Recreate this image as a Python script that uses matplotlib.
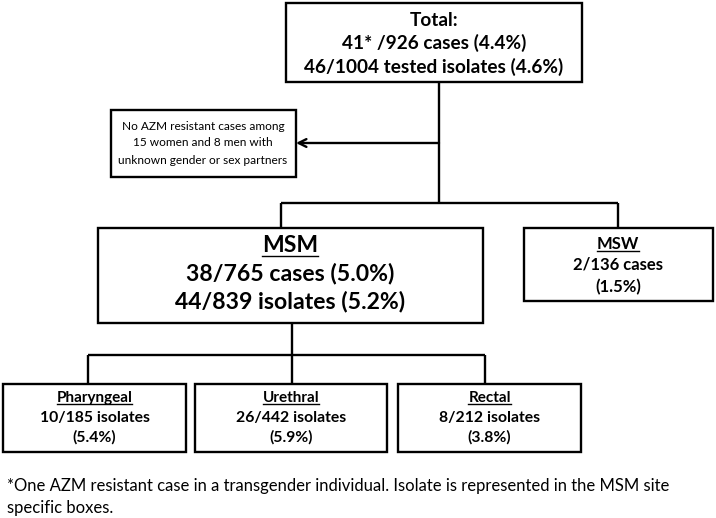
import matplotlib
matplotlib.use("Agg")
import matplotlib.pyplot as plt
from matplotlib.patches import Rectangle

plt.rcParams['font.family'] = ['Lato', 'DejaVu Sans']

# box contents: (title, lines)
total_title = "Total:"
total_lines = ["41* /926 cases (4.4%)", "46/1004 tested isolates (4.6%)"]
note_lines = ["No AZM resistant cases among", "15 women and 8 men with",
              "unknown gender or sex partners"]
msm_title = "MSM"
msm_lines = ["38/765 cases (5.0%)", "44/839 isolates (5.2%)"]
msw_title = "MSW"
msw_lines = ["2/136 cases", "(1.5%)"]
site_titles = ["Pharyngeal", "Urethral", "Rectal"]
site_lines = [["10/185 isolates", "(5.4%)"],
              ["26/442 isolates", "(5.9%)"],
              ["8/212 isolates", "(3.8%)"]]
footnote = ("*One AZM resistant case in a transgender individual. Isolate is represented in the MSM site\n"
            "specific boxes.")

W, H = 716, 518
fig = plt.figure(figsize=(W / 100, H / 100), dpi=100)
ax = fig.add_axes([0, 0, 1, 1])
ax.set_xlim(0, W)
ax.set_ylim(H, 0)
ax.axis('off')

LW = 1.7


def box(x0, y0, x1, y1):
    ax.add_patch(Rectangle((x0, y0), x1 - x0, y1 - y0, fill=False,
                           edgecolor='black', linewidth=LW))


def line(xs, ys):
    ax.plot(xs, ys, color='black', linewidth=LW, solid_capstyle='butt')


underlined = []


def txt(x, y, s, size, bold=True, underline=False):
    t = ax.text(x, y, s, ha='center', va='center', fontsize=size,
                fontweight='bold' if bold else 'normal', color='black')
    if underline:
        underlined.append(t)
    return t


# total box
box(286, 3, 582, 82)
txt(434, 20, total_title, 13.7)
txt(434, 43, total_lines[0], 13.7)
txt(434, 67, total_lines[1], 13.7)

# note box + arrow
box(111, 110, 296, 177)
for i, s in enumerate(note_lines):
    txt(203, 126 + 17 * i, s, 8.6, bold=False)
line([439, 439], [82, 203])
ax.annotate('', xy=(296, 143), xytext=(439, 143),
            arrowprops=dict(arrowstyle='->', color='black', lw=LW,
                            mutation_scale=14, shrinkA=0, shrinkB=0))

# split to MSM / MSW
line([281, 618], [203, 203])
line([281, 281], [203, 228])
line([618, 618], [203, 228])

box(98, 228, 483, 323)
txt(290, 246, msm_title, 16.6, underline=True)
txt(290, 273, msm_lines[0], 16.6)
txt(290, 301, msm_lines[1], 16.6)

box(524, 228, 713, 301)
txt(618, 244, msw_title, 12, underline=True)
txt(618, 265, msw_lines[0], 12)
txt(618, 287, msw_lines[1], 12)

# split to sites
line([292, 292], [323, 355])
line([88, 485], [355, 355])
site_boxes = [(3, 186), (195, 387), (398, 581)]
site_stems = [88, 292, 485]
for (x0, x1), sx, title, lines in zip(site_boxes, site_stems, site_titles, site_lines):
    line([sx, sx], [355, 384])
    box(x0, 384, x1, 452)
    cx = (x0 + x1) / 2
    txt(cx, 398, title, 11, underline=True)
    txt(cx, 418, lines[0], 11.3)
    txt(cx, 437, lines[1], 11.3)

ax.text(7, 497, footnote, ha='left', va='center', fontsize=12,
        linespacing=1.4, color='black')

# underline titles
fig.canvas.draw()
r = fig.canvas.get_renderer()
inv = ax.transData.inverted()
for t in underlined:
    bb = t.get_window_extent(r)
    (x0, y0), (x1, y1) = inv.transform([(bb.x0, bb.y0), (bb.x1, bb.y1)])
    yb = max(y0, y1) - 1
    ax.plot([x0, x1], [yb, yb], color='black', linewidth=1.0)

fig.savefig('out.png', dpi=100, facecolor='white')
